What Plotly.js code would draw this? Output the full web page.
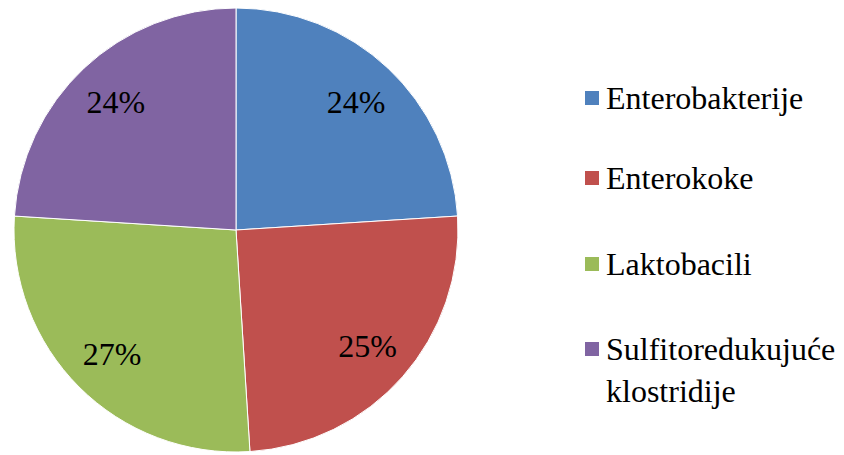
<!DOCTYPE html>
<html>
<head>
<meta charset="utf-8">
<script src="https://cdn.plot.ly/plotly-3.0.1.min.js"></script>
<style>
html,body{margin:0;padding:0;background:#fff;}
#chart text{font-family:'Liberation Serif','Times New Roman','DejaVu Serif',serif !important;}
</style>
</head>
<body>
<div id="chart"></div>
<script>
const categories = ["Enterobakterije", "Enterokoke", "Laktobacili", "Sulfitoredukujuće klostridije"];
const legendLabels = ["Enterobakterije", "Enterokoke", "Laktobacili", "Sulfitoredukujuće<br>klostridije"];
const values = [24, 25, 27, 24];
const colors = ["#4F81BD", "#C0504D", "#9BBB59", "#8064A2"];

const W = 844, H = 455;
const fontFam = "Liberation Serif";
const dom = {x: [13 / W, 459 / W], y: [3 / H, 447 / H]};

const slices = {
  type: "pie",
  labels: categories,
  values: values,
  sort: false,
  direction: "clockwise",
  rotation: 0,
  marker: {colors: colors, line: {color: "#ffffff", width: 1}},
  textinfo: "none",
  showlegend: false,
  domain: dom
};

// transparent ring that carries the percentage labels further out
const labelsRing = {
  type: "pie",
  labels: categories,
  values: values,
  sort: false,
  direction: "clockwise",
  rotation: 0,
  hole: 0.58,
  marker: {colors: ["rgba(0,0,0,0)", "rgba(0,0,0,0)", "rgba(0,0,0,0)", "rgba(0,0,0,0)"], line: {width: 0}},
  texttemplate: "%{percent:.0%}",
  textposition: "inside",
  insidetextorientation: "horizontal",
  textfont: {family: fontFam, size: 32, color: "#000000"},
  hoverinfo: "skip",
  showlegend: false,
  domain: dom
};

// custom legend built from the arrays
const legendY = [98, 178, 264, 349];
const annotations = [];
const shapes = [];
for (let i = 0; i < categories.length; i++) {
  annotations.push({
    xref: "paper", yref: "paper",
    x: 604 / W, y: 1 - (legendY[i] - 20) / H,
    xanchor: "left", yanchor: "top",
    align: "left",
    showarrow: false,
    text: legendLabels[i],
    font: {family: fontFam, size: 32, color: "#000000"}
  });
  shapes.push({
    type: "rect", xref: "paper", yref: "paper",
    x0: 585 / W, x1: 599 / W,
    y0: 1 - (legendY[i] - 7) / H, y1: 1 - (legendY[i] + 7) / H,
    fillcolor: colors[i], line: {width: 0}
  });
}

const layout = {
  width: W, height: H,
  margin: {l: 0, r: 0, t: 0, b: 0},
  paper_bgcolor: "#ffffff",
  font: {family: fontFam},
  showlegend: false,
  annotations: annotations,
  shapes: shapes
};

Plotly.newPlot("chart", [slices, labelsRing], layout, {staticPlot: true});
</script>
</body>
</html>
